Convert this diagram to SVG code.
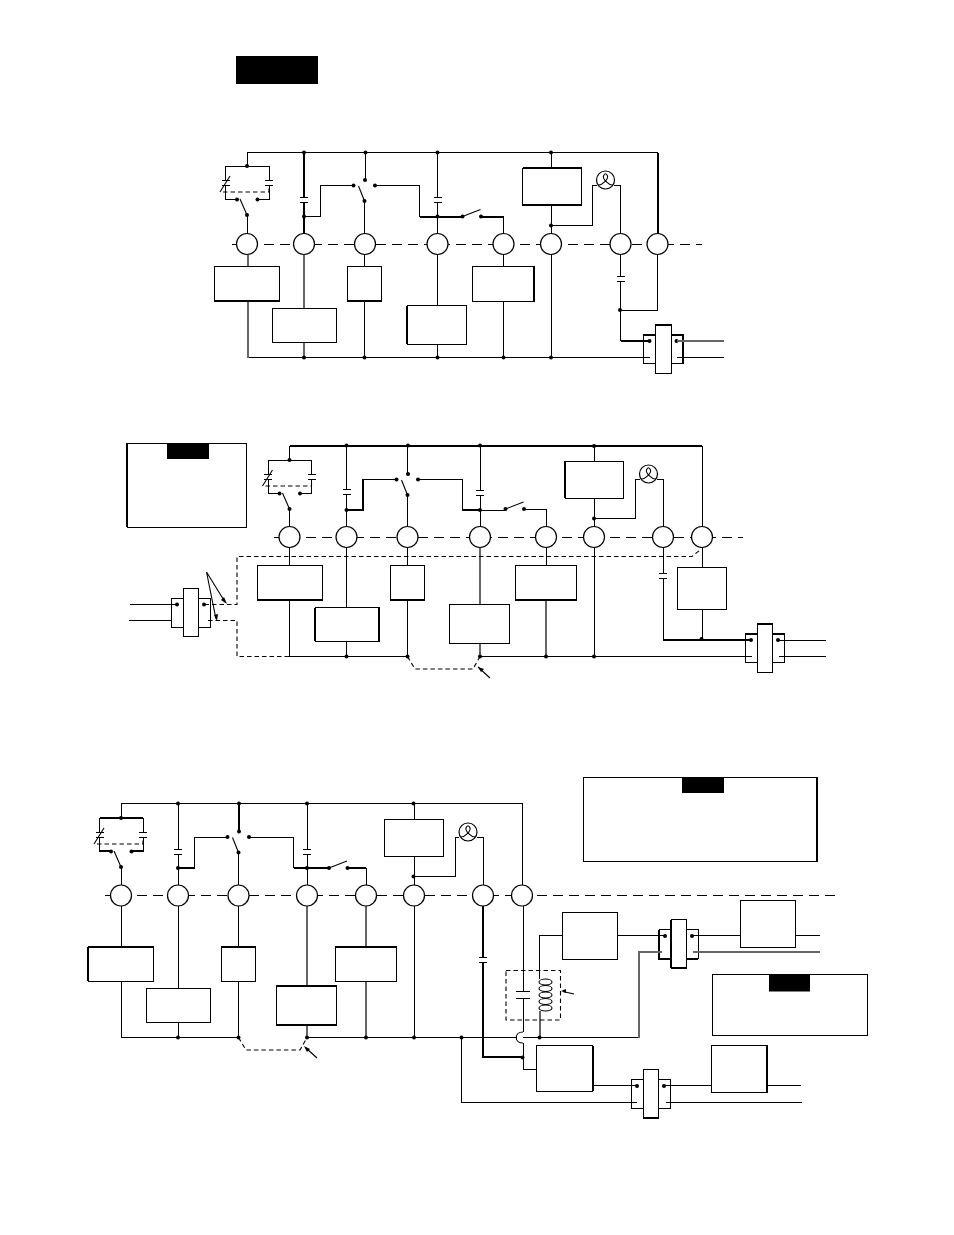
<svg xmlns="http://www.w3.org/2000/svg" width="954" height="1235" viewBox="0 0 954 1235">
<style>
.w{fill:none;stroke:#000;stroke-width:1;shape-rendering:crispEdges}
.t{fill:none;stroke:#000;stroke-width:2;shape-rendering:crispEdges}
.g{fill:none;stroke:#666;stroke-width:2;shape-rendering:crispEdges}
.c{fill:none;stroke:#000;stroke-width:1.1}
.bus{fill:none;stroke:#000;stroke-width:1;stroke-dasharray:10 6;shape-rendering:crispEdges}
.dd{fill:none;stroke:#000;stroke-width:1.1;stroke-dasharray:4.500 3}
.b{fill:#fff;stroke:#000;stroke-width:1;shape-rendering:crispEdges}
.k{fill:#000;stroke:none}
.n{fill:#fff;stroke:#000;stroke-width:1.2}
.d{fill:#000;stroke:none}
</style>
<defs>
<g id="cap"><path class="w" d="M-4-2.500H4M-4 2.500H4"/></g>
<g id="nc"><path class="w" d="M-21.500 14.500V0H22V14.500M-21.500 19V33.500H-10M11 33.500H22V19M-25.500 14.500H-17.500M-25.500 19H-17.500M18 14.500H26M18 19H26"/><path class="c" d="M-27 26L-17 10M-7 33L0 49"/><path class="dd" d="M-24 26H22V19"/><circle class="d" cx="0" cy="0" r="2"/><circle class="d" cx="-10" cy="33.500" r="2"/><circle class="d" cx="10.500" cy="33.500" r="2"/><circle class="d" cx="0" cy="49" r="2"/></g>
<g id="sw"><path class="c" d="M-6-15L0 0"/><circle class="d" cx="0.500" cy="-21" r="2"/><circle class="d" cx="-11" cy="-15.500" r="2"/><circle class="d" cx="10.500" cy="-15.500" r="2"/><circle class="d" cx="0" cy="0" r="2"/></g>
<g id="no"><path class="c" d="M0 0L18-7"/><circle class="d" cx="0" cy="0" r="2"/><circle class="d" cx="18.500" cy="0" r="2"/></g>
<g id="lamp"><circle class="n" cx="0" cy="0" r="9"/><path class="c" d="M-7 5C-3 5 3-1 2-4C1-7-1-7-2-4C-3-1 3 5 7 5"/></g>
<g id="tb"><rect class="b" x="0" y="0" width="39.500" height="29"/><rect class="b" x="12" y="-10" width="15.500" height="48.500"/><circle class="d" cx="6" cy="6.500" r="2"/><circle class="d" cx="33" cy="6.500" r="2"/></g>
</defs>
<g id="title-bar"><rect class="k" x="236" y="56" width="82" height="28"/></g>

<g id="terminal-blocks">
<g id="tb-1"><use href="#tb" x="643.500" y="334.500"/><path class="t" d="M643.500 334.500H655.500M671.500 334.500H683V363M655.500 324.500H671"/></g>
<g id="tb-2"><use href="#tb" x="171" y="598"/></g>
<g id="tb-3"><use href="#tb" x="745" y="633.500"/><path class="t" d="M745 633.500H757M772.500 633.500H784.500M757 623.500H772.500"/></g>
<g id="tb-4"><use href="#tb" x="659" y="929.500"/><path class="t" d="M659 929.500V958.500H671M671 919.500V968M686.500 958.500H698M671 968H686.500"/></g>
<g id="tb-5"><use href="#tb" x="631" y="1079.500"/><path class="t" d="M643 1118H658.500"/></g>
</g>

<g id="connectors">
<!-- section 1 -->
<path class="bus" d="M232 244.500H702"/>
<path class="w" d="M247 166V152.500H658"/>
<path class="t" d="M658 152.500V234M304 152.500V197M304 202V234M420 216.500H462M481 216.500H503.500"/>
<path class="w" d="M365.500 152.500V180M437.500 152.500V197.500M437.500 202.500V234M551 152.500V168M247 215V234"/>
<path class="w" d="M304 216.500H320.500V185.500H354M375.500 185.500H419.500V216.500H462M503.500 216.500V234M364.500 201V234"/>
<path class="w" d="M551 205V234M551 225.500H592.500V185H597M614 185H620.500V234"/>
<path class="w" d="M620.500 255V276M620.500 281V341M620.500 310H657.500V254M650 357.500H247.500M677 357.500H724"/>
<path class="t" d="M620.500 341H650"/>
<path class="g" d="M677 341H724M247.500 255V357.500M304 255V357.500"/>
<path class="w" d="M364.500 255V357.500M437.500 255V357.500M503.500 255V357.500M551 255V357.500"/>
<!-- section 2 -->
<path class="bus" d="M274 537.500H743"/>
<path class="t" d="M289.500 446H702"/>
<path class="w" d="M702 446V527M289.500 446V460M346.500 446V489M346.500 494V527M407.500 446V474M480 446V490M480 495V527M594 446V461"/>
<path class="w" d="M289.500 508.500V527M407.500 495V527M417.500 479H462.500V510H505M524 509H546V527M363 479H396"/>
<path class="t" d="M346.500 510H363V479M462.500 510H480"/>
<path class="w" d="M594 498V527M594 518.500H635.500V479H640M657 479H663V527"/>
<path class="w" d="M289.500 547V656.500M346.500 547V656.500M407.500 547V656.500M546 547V566M594 547V656.500M663 547V573M663 579V640M702 547V640M289.500 656.500H407.500M480 656.500H752M779 656.500H826M130 604H177.500M129 620.500H171M778 640H826"/>
<path class="g" d="M480 547V604M480 644V656.500M546 600V656.500"/>
<path class="t" d="M663 640H751"/>
<path class="dd" d="M204.500 604.500H237V556.500H692L700 550M208 620.500H237V656.500H290M407.500 656.500L415 669H473L480 656.500"/>
<path class="c" d="M206.500 572L225 602M206.500 572L216 619M490 678L478 667"/>
<path class="k" d="M227 604L221 600L224 597ZM217 621L214 615L218 614ZM478 667L484 669L481 672Z"/>
<!-- section 3 -->
<path class="bus" d="M105 895.500H836"/>
<path class="w" d="M121 818V803.500H522V885M178 803.500V849M178 854V885M239 803.500V832M307 803.500V849M307 854V885M414 803.500V819M121 866.500V885"/>
<path class="t" d="M178 868H194.500M293.500 868H329M348 868H366M239 803.500V832M99.500 818H142.500M99.500 851H111M131 851H142.500"/>
<path class="w" d="M194.500 868V837H228M249 837H293.500V868M366 868V885M238.500 852.500V885"/>
<path class="w" d="M414 856V885M414 876.500H455.500V837H459M477 837H483V885"/>
<path class="w" d="M121 906V1037.500H238.500M178 906V988M238.500 906V1037.500M414 906V1037.500M178 1022V1037.500"/>
<path class="g" d="M307 906V986M307 1025V1037.500M366 906V1037.500"/>
<path class="w" d="M307 1037.500H517M523 906V991M523 998V1032M523 1043V1069H536M523 1037.500H639"/>
<path class="c" d="M523 1032C514 1032 514 1043 523 1043"/>
<path class="g" d="M639 1037.500V951.500H662M693 951.500H820M539.500 1011V1037.500"/>
<path class="t" d="M483 906V957M483 962V1057H523"/>
<path class="w" d="M539.500 979V935.500H562M617 935.500H665M692 935.500H740M795 935.500H820"/>
<path class="w" d="M592 1085.500H637M664 1085.500H711.500M767 1085.500H801M461.500 1037.500V1102H637M666 1102H801.500"/>
<path class="dd" d="M238.500 1037.500L246 1050H300L307 1037.500"/>
<path class="c" d="M317 1058L306 1048M574 994L563 991.500"/>
<path class="k" d="M304 1046L310 1049L307 1052ZM561 991L566 989L566 993Z"/>
<path class="dd" d="M506 970.500H560.500V1020H506Z"/>
<g id="coil"><ellipse class="c" cx="545.500" cy="982" rx="6.500" ry="3"/><ellipse class="c" cx="545.500" cy="988.500" rx="6.500" ry="3"/><ellipse class="c" cx="545.500" cy="995" rx="6.500" ry="3"/><ellipse class="c" cx="545.500" cy="1001.500" rx="6.500" ry="3"/><ellipse class="c" cx="545.500" cy="1008" rx="6.500" ry="3"/></g>
<use href="#cap" x="620.500" y="278.500"/>
<use href="#cap" x="663" y="576"/>
<use href="#cap" x="304" y="199.500"/>
<use href="#cap" x="437.500" y="200"/>
<use href="#cap" x="346.500" y="491.500"/>
<use href="#cap" x="480" y="492.500"/>
<use href="#cap" x="178" y="851.500"/>
<use href="#cap" x="307" y="851.500"/>
<use href="#cap" x="483" y="959.500"/>
<path class="w" d="M516 991H530M516 998H530"/>
<use href="#nc" x="247" y="166"/>
<use href="#nc" x="289.500" y="460"/>
<use href="#nc" x="121" y="818"/>
<use href="#sw" x="364.500" y="201"/>
<use href="#sw" x="407.500" y="495"/>
<use href="#sw" x="238.500" y="852.500"/>
<use href="#no" x="462.500" y="216.500"/>
<use href="#no" x="505.500" y="509"/>
<use href="#no" x="329" y="868"/>
<g id="junctions">
<circle class="d" cx="304" cy="152.500" r="2"/><circle class="d" cx="365.500" cy="152.500" r="2"/><circle class="d" cx="437.500" cy="152.500" r="2"/><circle class="d" cx="551" cy="152.500" r="2"/><circle class="d" cx="304" cy="216.500" r="2"/><circle class="d" cx="437.500" cy="216.500" r="2"/><circle class="d" cx="551" cy="225.500" r="2"/><circle class="d" cx="620" cy="310" r="2"/><circle class="d" cx="304" cy="357.500" r="2"/><circle class="d" cx="364.500" cy="357.500" r="2"/><circle class="d" cx="437.500" cy="357.500" r="2"/><circle class="d" cx="503.500" cy="357.500" r="2"/><circle class="d" cx="551" cy="357.500" r="2"/>
<circle class="d" cx="346.500" cy="445.500" r="2"/><circle class="d" cx="408" cy="445.500" r="2"/><circle class="d" cx="480" cy="445.500" r="2"/><circle class="d" cx="594" cy="446" r="2"/><circle class="d" cx="346.500" cy="510" r="2"/><circle class="d" cx="480" cy="510" r="2"/><circle class="d" cx="594" cy="518.500" r="2"/><circle class="d" cx="346.500" cy="656.500" r="2"/><circle class="d" cx="407.500" cy="656.500" r="2"/><circle class="d" cx="480" cy="656.500" r="2"/><circle class="d" cx="546" cy="656.500" r="2"/><circle class="d" cx="594" cy="656.500" r="2"/><circle class="d" cx="701.500" cy="639" r="2"/>
<circle class="d" cx="178" cy="803.500" r="2"/><circle class="d" cx="239" cy="803.500" r="2"/><circle class="d" cx="307" cy="803.500" r="2"/><circle class="d" cx="413.500" cy="803.500" r="2"/><circle class="d" cx="178" cy="868" r="2"/><circle class="d" cx="307" cy="868" r="2"/><circle class="d" cx="413.500" cy="876.500" r="2"/><circle class="d" cx="178" cy="1037.500" r="2"/><circle class="d" cx="238.500" cy="1037.500" r="2"/><circle class="d" cx="307" cy="1037.500" r="2"/><circle class="d" cx="366" cy="1037.500" r="2"/><circle class="d" cx="414" cy="1037.500" r="2"/><circle class="d" cx="461.500" cy="1037.500" r="2"/><circle class="d" cx="539.500" cy="1037.500" r="2"/><circle class="d" cx="522.500" cy="1057.500" r="2"/>
</g>
</g>

<g id="section-1-nodes">
<g id="c1-1"><circle class="n" cx="247" cy="244" r="10.500"/></g>
<g id="c1-2"><circle class="n" cx="304" cy="244" r="10.500"/></g>
<g id="c1-3"><circle class="n" cx="365" cy="244" r="10.500"/></g>
<g id="c1-4"><circle class="n" cx="437.500" cy="244" r="10.500"/></g>
<g id="c1-5"><circle class="n" cx="503.500" cy="244" r="10.500"/></g>
<g id="c1-6"><circle class="n" cx="551" cy="244" r="10.500"/></g>
<g id="c1-7"><circle class="n" cx="620.500" cy="244" r="10.500"/></g>
<g id="c1-8"><circle class="n" cx="657.500" cy="244" r="10.500"/></g>
<g id="b1-1"><rect class="b" x="214.500" y="266.500" width="65" height="34.500"/><path class="t" d="M214.500 301H279.500"/></g>
<g id="b1-2"><rect class="b" x="272.500" y="308.500" width="64" height="33.500"/></g>
<g id="b1-3"><rect class="b" x="347.500" y="266.500" width="34" height="34.500"/><path class="t" d="M347.500 301H381.500"/></g>
<g id="b1-4"><rect class="b" x="407" y="305.500" width="59.500" height="38.500"/><path class="t" d="M407 305.500V344"/></g>
<g id="b1-5"><rect class="b" x="472.500" y="266.500" width="61.500" height="34.500"/><path class="t" d="M534 266.500V301"/></g>
<g id="b1-6"><rect class="b" x="522.500" y="168" width="59" height="37"/><path class="t" d="M522.500 168H581.500M522.500 205H581.500"/></g>
<g id="l1"><use href="#lamp" x="605.500" y="180"/></g>
</g>

<g id="section-2-nodes">
<g id="legend-2"><rect class="b" x="127" y="443" width="119" height="84"/><path class="t" d="M127 443V527"/><rect class="k" x="167" y="443" width="42" height="16"/></g>
<g id="c2-1"><circle class="n" cx="289.500" cy="537" r="10.500"/></g>
<g id="c2-2"><circle class="n" cx="346.500" cy="537" r="10.500"/></g>
<g id="c2-3"><circle class="n" cx="407.500" cy="537" r="10.500"/></g>
<g id="c2-4"><circle class="n" cx="480" cy="537" r="10.500"/></g>
<g id="c2-5"><circle class="n" cx="546" cy="537" r="10.500"/></g>
<g id="c2-6"><circle class="n" cx="594" cy="537" r="10.500"/></g>
<g id="c2-7"><circle class="n" cx="663" cy="537" r="10.500"/></g>
<g id="c2-8"><circle class="n" cx="702" cy="537" r="10.500"/></g>
<g id="b2-1"><rect class="b" x="257" y="565.500" width="65" height="34.500"/><path class="t" d="M257 600H322"/></g>
<g id="b2-2"><rect class="b" x="315" y="607.500" width="64" height="33.500"/><path class="t" d="M315 607.500V641M379 607.500V641"/></g>
<g id="b2-3"><rect class="b" x="390.500" y="565.500" width="33.500" height="34.500"/><path class="t" d="M390.500 600H424"/></g>
<g id="b2-4"><rect class="b" x="449.500" y="604" width="60" height="39.500"/></g>
<g id="b2-5"><rect class="b" x="515.500" y="565.500" width="61" height="34.500"/><path class="t" d="M515.500 600H576.500"/></g>
<g id="b2-6"><rect class="b" x="565" y="461" width="58" height="37"/><path class="t" d="M565 461V498"/></g>
<g id="b2-7"><rect class="b" x="677.500" y="567.500" width="48.500" height="41.500"/></g>
<g id="l2"><use href="#lamp" x="648.500" y="474"/></g>
</g>

<g id="section-3-nodes">
<g id="legend-3a"><rect class="b" x="583" y="777" width="234" height="84"/><path class="t" d="M817 777V861"/><rect class="k" x="682" y="777" width="42" height="16"/></g>
<g id="legend-3b"><rect class="b" x="712" y="974.500" width="155" height="60.500"/><rect class="k" x="769" y="974.500" width="41" height="17"/></g>
<g id="c3-1"><circle class="n" cx="121" cy="895.500" r="10.500"/></g>
<g id="c3-2"><circle class="n" cx="178" cy="895.500" r="10.500"/></g>
<g id="c3-3"><circle class="n" cx="238.500" cy="895.500" r="10.500"/></g>
<g id="c3-4"><circle class="n" cx="307" cy="895.500" r="10.500"/></g>
<g id="c3-5"><circle class="n" cx="366" cy="895.500" r="10.500"/></g>
<g id="c3-6"><circle class="n" cx="414" cy="895.500" r="10.500"/></g>
<g id="c3-7"><circle class="n" cx="483" cy="895.500" r="10.500"/></g>
<g id="c3-8"><circle class="n" cx="522" cy="895.500" r="10.500"/></g>
<g id="b3-1"><rect class="b" x="88" y="946.500" width="65" height="34.500"/><path class="t" d="M88 946.500H153M88 946.500V981"/></g>
<g id="b3-2"><rect class="b" x="146.500" y="988.500" width="64" height="34"/></g>
<g id="b3-3"><rect class="b" x="221.500" y="946.500" width="34" height="34.500"/><path class="t" d="M221.500 946.500H255.500"/></g>
<g id="b3-4"><rect class="b" x="276.500" y="985.500" width="60" height="39.500"/><path class="t" d="M276.500 985.500H336.500M276.500 1025H336.500"/></g>
<g id="b3-5"><rect class="b" x="335.500" y="946.500" width="61" height="34.500"/><path class="t" d="M335.500 946.500H396.500"/></g>
<g id="b3-6"><rect class="b" x="384.500" y="819" width="59" height="37"/></g>
<g id="b3-7"><rect class="b" x="562.500" y="912.500" width="55" height="47"/></g>
<g id="b3-8"><rect class="b" x="740.500" y="900.500" width="55" height="47"/></g>
<g id="b3-9"><rect class="b" x="536.500" y="1045.500" width="56" height="45.500"/><path class="t" d="M592.500 1045.500V1091"/></g>
<g id="b3-10"><rect class="b" x="711.500" y="1045.500" width="55.500" height="46.500"/><path class="t" d="M767 1045.500V1092"/></g>
<g id="l3"><use href="#lamp" x="468" y="832"/></g>
</g>
</svg>
